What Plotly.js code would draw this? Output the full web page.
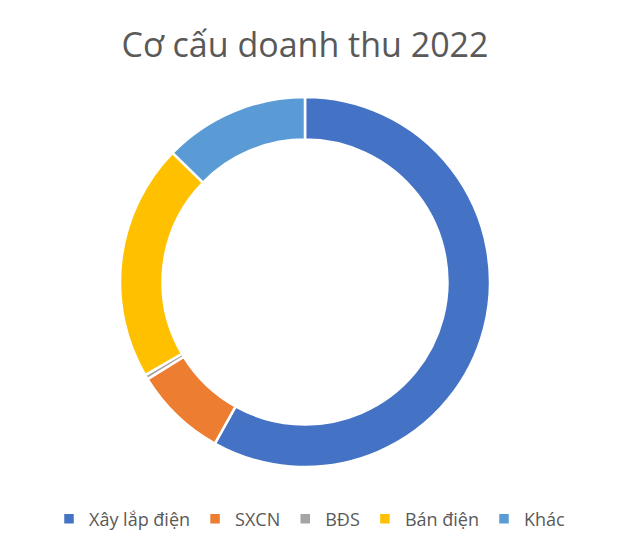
<!DOCTYPE html>
<html>
<head>
<meta charset="utf-8">
<script src="https://cdn.plot.ly/plotly-3.0.1.min.js"></script>
<style>
  html, body { margin: 0; padding: 0; background: #fff; }
  #chart { width: 635px; height: 546px; }
</style>
</head>
<body>
<div id="chart"></div>
<script>
// revenue structure 2022, share in %
const segments = ['Xây lắp điện', 'SXCN', 'BĐS', 'Bán điện', 'Khác'];
const shares = [58.1, 8.1, 0.4, 20.7, 12.7];
const segment_colors = ['#4472C4', '#ED7D31', '#A5A5A5', '#FFC000', '#5B9BD5'];

const W = 635, H = 546;
// ring centre and outer radius in pixels
const cx = 305, cy = 282, r = 185;

const data = [{
  type: 'pie',
  labels: segments,
  values: shares,
  hole: 0.77,
  sort: false,
  direction: 'clockwise',
  rotation: 0,
  textinfo: 'none',
  hoverinfo: 'label+percent',
  marker: {
    colors: segment_colors,
    line: { color: '#ffffff', width: 2.5 },
  },
  domain: {
    x: [(cx - r) / W, (cx + r) / W],
    y: [(H - cy - r) / H, (H - cy + r) / H],
  },
}];

const layout = {
  width: W,
  height: H,
  margin: { l: 0, r: 0, t: 0, b: 0 },
  paper_bgcolor: '#ffffff',
  font: { family: 'Open Sans, sans-serif', color: '#595959' },
  title: {
    text: 'Cơ cấu doanh thu 2022',
    font: { size: 34, color: '#595959', family: 'Open Sans, sans-serif' },
    x: 305 / W,
    xanchor: 'center',
    y: 1 - 45 / H,
    yanchor: 'middle',
  },
  showlegend: true,
  legend: {
    orientation: 'h',
    x: 310 / W,
    xanchor: 'center',
    y: (H - 519) / H,
    yanchor: 'middle',
    font: { size: 18, color: '#595959' },
    itemwidth: 30,
    traceorder: 'normal',
  },
};

Plotly.newPlot('chart', data, layout, { displayModeBar: false, staticPlot: true });
</script>
</body>
</html>
